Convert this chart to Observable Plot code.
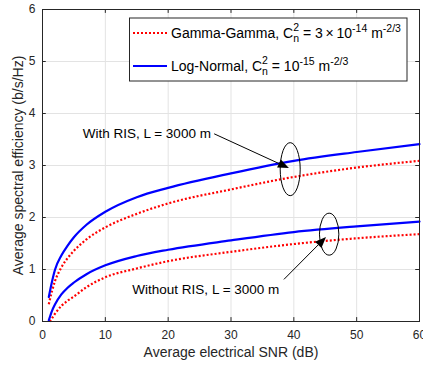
<!DOCTYPE html>
<html><head><meta charset="utf-8">
<script src="https://cdn.jsdelivr.net/npm/d3@7"></script>
<script src="https://cdn.jsdelivr.net/npm/@observablehq/plot@0.6"></script>
<style>
body{margin:0;background:#fff;}
#chart svg{font-family: Arial, "Liberation Sans", sans-serif;}
</style>
</head><body><div id="chart"></div>
<script>
// ---- data ----
const snr = [1, 1.5, 2, 3, 4, 5, 7, 10, 15, 20, 30, 40, 50, 60];
const snrGGWithout = [1.15, 1.5, 2, 3, 4, 5, 7, 10, 15, 20, 30, 40, 50, 60];
const lnWithRIS    = [0.47, 0.76, 1.00, 1.27, 1.46, 1.62, 1.86, 2.11, 2.39, 2.57, 2.85, 3.09, 3.26, 3.41];
const ggWithRIS    = [0.33, 0.58, 0.78, 1.04, 1.22, 1.36, 1.58, 1.81, 2.07, 2.27, 2.54, 2.78, 2.96, 3.09];
const lnWithoutRIS = [0.02, 0.20, 0.33, 0.52, 0.65, 0.75, 0.91, 1.08, 1.26, 1.38, 1.56, 1.72, 1.83, 1.92];
const ggWithoutRIS = [0.00, 0.06, 0.15, 0.30, 0.40, 0.48, 0.66, 0.85, 1.02, 1.16, 1.34, 1.49, 1.60, 1.68];
const xTicks = [0, 10, 20, 30, 40, 50, 60];
const yTicks = [0, 1, 2, 3, 4, 5, 6];
const xLabel = "Average electrical SNR (dB)";
const yLabel = "Average spectral efficiency (b/s/Hz)";
const annText = ["With RIS, L = 3000 m", "Without RIS, L = 3000 m"];
const annTextPos = [[6.4, 3.62], [14.3, 0.61]];
const annArrowFrom = [[27.4, 3.60], [38.5, 0.80]];
const annArrowTo = [[39.3, 2.94], [45.2, 1.615]];
const ellipseCenter = [[39.5, 2.92], [45.7, 1.67]];
const ellipseRadiusPx = [[10, 26.5], [9.7, 21]];

const rows = [];
function add(xs, ys, model, ris) { xs.forEach((x, i) => rows.push({snr: x, se: ys[i], model, ris})); }
add(snr, lnWithRIS, "LN", "with");
add(snr, ggWithRIS, "GG", "with");
add(snr, lnWithoutRIS, "LN", "without");
add(snrGGWithout, ggWithoutRIS, "GG", "without");

const ink = "#262626";
const chart = Plot.plot({
  width: 423, height: 367,
  marginLeft: 42, marginRight: 4, marginTop: 9, marginBottom: 46,
  style: {fontFamily: "Arial, 'Liberation Sans', sans-serif", color: ink, background: "#fff"},
  x: {domain: [0, 60]},
  y: {domain: [0, 6]},
  marks: [
    Plot.gridX(xTicks, {stroke: "#e3e3e3", strokeOpacity: 1}),
    Plot.gridY(yTicks, {stroke: "#e3e3e3", strokeOpacity: 1}),
    Plot.line(rows.filter(d => d.model === "GG"), {x: "snr", y: "se", z: "ris", stroke: "#ff0000", strokeWidth: 2.2, strokeDasharray: "2,2", strokeLinecap: "butt", curve: "monotone-x"}),
    Plot.line(rows.filter(d => d.model === "LN"), {x: "snr", y: "se", z: "ris", stroke: "#0000ff", strokeWidth: 2.2, curve: "monotone-x"}),
    Plot.ruleX(xTicks, {x: d => d, y1: 0, y2: 0.075, stroke: ink}),
    Plot.ruleX(xTicks, {x: d => d, y1: 6, y2: 5.925, stroke: ink}),
    Plot.ruleY(yTicks, {y: d => d, x1: 0, x2: 0.6, stroke: ink}),
    Plot.ruleY(yTicks, {y: d => d, x1: 60, x2: 59.4, stroke: ink}),
    Plot.frame({stroke: ink}),
    Plot.axisX(xTicks, {tickSize: 0, tickPadding: 9, fontSize: 12, label: null, tickFormat: d => String(d)}),
    Plot.axisY(yTicks, {tickSize: 0, tickPadding: 7, fontSize: 12, label: null, tickFormat: d => String(d)}),
    Plot.text([xLabel], {frameAnchor: "bottom", dy: 35, fontSize: 14, fill: ink}),
    Plot.text([yLabel], {frameAnchor: "left", textAnchor: "middle", rotate: -90, dx: -24, fontSize: 14, fill: ink}),
    Plot.text(annText, {x: (d, i) => annTextPos[i][0], y: (d, i) => annTextPos[i][1], text: d => d, textAnchor: "start", fontSize: 13.5, fill: "#000"})
  ]
});
document.getElementById("chart").appendChild(chart);

// ---- annotations & legend via d3, positioned through Plot's scales ----
const sx = chart.scale("x"), sy = chart.scale("y");
const svg = d3.select(chart);
const g = svg.append("g");
ellipseCenter.forEach((c, i) => {
  g.append("ellipse").attr("cx", sx.apply(c[0])).attr("cy", sy.apply(c[1]))
    .attr("rx", ellipseRadiusPx[i][0]).attr("ry", ellipseRadiusPx[i][1])
    .attr("fill", "none").attr("stroke", "#000").attr("stroke-width", 1);
});
annArrowFrom.forEach((f, i) => {
  const x1 = sx.apply(f[0]), y1 = sy.apply(f[1]);
  const x2 = sx.apply(annArrowTo[i][0]), y2 = sy.apply(annArrowTo[i][1]);
  const dx = x2 - x1, dy = y2 - y1, L = Math.hypot(dx, dy), ux = dx / L, uy = dy / L;
  const hl = 11, hw = 4.5;
  const bx = x2 - ux * hl, by = y2 - uy * hl;
  g.append("line").attr("x1", x1).attr("y1", y1).attr("x2", bx).attr("y2", by).attr("stroke", "#000").attr("stroke-width", 1);
  g.append("path").attr("d", `M${x2},${y2}L${bx - uy * hw},${by + ux * hw}L${bx + uy * hw},${by - ux * hw}Z`).attr("fill", "#000");
});

// legend
const leg = svg.append("g").attr("text-anchor", "start");
leg.append("rect").attr("x", 129.5).attr("y", 18).attr("width", 277.5).attr("height", 63)
  .attr("fill", "#fff").attr("stroke", ink).attr("stroke-width", 1);
const legendItems = [
  {stroke: "#ff0000", dash: "2,2", y: 33, name: "Gamma-Gamma, C", coef: " = 3\u2009\u00d7\u200910", exp: "-14"},
  {stroke: "#0000ff", dash: null, y: 66, name: "Log-Normal, C", coef: " = 10", exp: "-15"}
];
legendItems.forEach(it => {
  const ln = leg.append("line").attr("x1", 133).attr("x2", 167).attr("y1", it.y).attr("y2", it.y)
    .attr("stroke", it.stroke).attr("stroke-width", 2.2);
  if (it.dash) ln.attr("stroke-dasharray", it.dash);
  const t = leg.append("text").attr("x", 171).attr("y", it.y + 5).attr("font-size", 14).attr("fill", "#000").attr("text-anchor", "start");
  t.append("tspan").text(it.name);
  t.append("tspan").attr("font-size", 10.5).attr("dy", -7).text("2");
  t.append("tspan").attr("font-size", 10.5).attr("dx", -5.8).attr("dy", 11).text("n");
  t.append("tspan").attr("dy", -4).text(it.coef);
  t.append("tspan").attr("font-size", 10.5).attr("dy", -6).text(it.exp);
  t.append("tspan").attr("dy", 6).text(" m");
  t.append("tspan").attr("font-size", 10.5).attr("dy", -6).text("-2/3");
});
</script>
</body></html>
